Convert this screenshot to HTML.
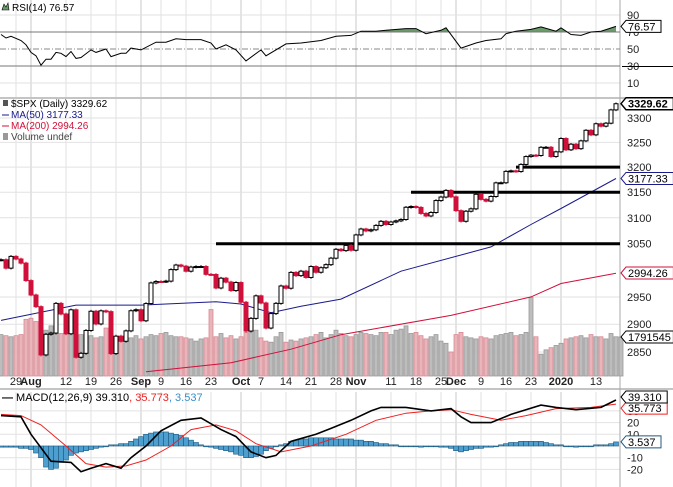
<!DOCTYPE html>
<html><head><meta charset="utf-8"><style>
html,body{margin:0;padding:0;background:#fff;}
svg{display:block;font-family:"Liberation Sans",sans-serif;}
</style></head><body>
<svg id="c" width="673" height="487" viewBox="0 0 673 487"></svg>
<script>
// ---- data ----
const closes=[3019.6,3003.7,3025.9,3020.97,3013.18,2980.38,
2953.56,2932.05,2844.74,2881.77,2883.98,2938.09,2918.65,2882.70,2926.32,2840.60,2847.60,2888.68,2923.65,2900.51,2924.43,2922.95,2847.11,2878.38,2869.16,2887.94,2924.58,2926.46,
2906.27,2937.78,2976.00,2978.71,2978.43,2979.39,3000.93,3009.57,3007.39,2997.96,3005.70,3006.73,3006.79,2992.07,2991.78,2966.60,2984.87,2977.62,2961.79,2976.74,
2940.25,2887.61,2910.63,2952.01,2938.79,2893.06,2919.40,2938.13,2970.27,2966.15,2995.68,2989.69,2997.95,2986.20,3006.72,2995.99,3004.52,3010.29,3022.55,3039.42,3036.89,3046.77,3037.56,
3066.91,3078.27,3074.62,3076.78,3085.18,3093.08,3087.01,3091.84,3094.04,3096.63,3120.46,3122.03,3120.18,3108.46,3103.54,3110.29,3133.64,3140.52,3153.63,3140.98,
3113.87,3093.20,3112.76,3117.43,3145.91,3135.96,3132.52,3141.63,3168.57,3168.80,3191.45,3192.52,3191.14,3205.37,3221.22,3224.01,3223.38,3239.91,3240.02,3221.29,3230.78,
3257.85,3234.85,3246.28,3237.18,3253.05,3274.70,3265.35,3288.13,3283.15,3289.29,3316.81,3329.62];
const firstOpen=3019.0;
const volumes=[1.9,1.85,1.8,1.85,1.9, 2.6,2.65,2.5,2.6, 2.1,2.3,2.15,1.95,2.4, 2.3,1.95,1.9,1.8,1.85,1.75,
1.8,2.2,1.7,1.75,1.6,1.7,1.75,1.85, 1.7,1.8,1.9,1.85,1.95,2.0, 1.85,1.8,1.8,1.75,1.7,1.6,1.7,1.75, 3.05,
1.8,1.95,1.75,1.85,1.7,1.8,2.0, 2.1,2.1,1.75,1.6,1.55,1.8,2.0,
1.55,1.65,1.6,1.7,1.75,1.8,1.9,2.0,1.75,1.9,2.1,1.95,1.85,1.8,
1.9,2.0,1.95,1.9,1.85,2.0,2.0,1.9,2.1,2.15,2.3,1.95,2.0,1.85,1.7,1.8,1.9,1.6,1.5, 1.1,
1.9,2.0,1.8,1.75,1.7,1.8,1.75,1.7,1.85,1.9,1.95,2.0,1.85,1.9,2.0, 3.6,
1.8,1.0,1.2,1.3,1.4,1.5, 1.7,1.75,1.8,1.85,1.75,1.9,1.8,1.8,1.7,1.95,1.8,1.79];
const ma50Idx=[0,15,28,43,48,54,60,68,80,98,106,112,123];
const ma50Val=[2907,2935,2935,2941,2937,2921,2933,2946,2998,3044,3087,3118,3177.33];
const ma200Idx=[29,46,58,68,90,106,112,123];
const ma200Val=[2815,2831,2855,2881,2916,2950,2975,2994.26];
const rsiIdx=[0,1,2,4,5,6,7,8,9,10,11,12,13,14,15,16,18,19,21,22,24,25,26,28,31,33,35,37,40,42,43,45,47,49,52,53,57,60,64,67,70,72,75,77,81,83,85,88,89,92,95,97,100,101,103,106,108,111,112,114,116,118,120,123];
const rsiVal=[67,63,65,60,55,46,42,31,38,38,46,45,41,47,39,40,49,46,50,41,45,45,51,49,58,58,62,61,61,57,50,55,49,36,49,42,56,57,60,65,66,71,71,72,74,74,68,72,75,51,57,60,62,68,71,73,76,71,75,67,66,70,71,76.57];
const macdIdx=[0,4,6,10,14,16,18,21,24,26,29,32,36,40,44,47,50,53,55,58,63,66,70,74,76,81,86,90,92,94,98,102,108,111,115,120,123];
const macdVal=[26,25,10,-13,-14,-22,-19,-15,-19,-10,0,13,22,24,14,8,-5,-10,-8,4,10,15,22,30,33,33,30,32,25,20,20,27,35,33,31,33,39.31];
const sigIdx=[0,4,8,13,17,21,25,29,34,38,43,47,51,56,62,69,75,81,86,90,94,100,105,111,118,123];
const sigVal=[27,26,18,0,-15,-18,-17,-12,0,14,18,13,2,-5,0,10,22,28,30,31,27,22,26,32,33,35.77];
const hist=[-1,-1,-1,-1,-2,-2,-3,-6,-10,-18,-20,-19,-14,-12,-8,-6,-5,-4,-3,-2,-1,0,1,1,2,2,4,6,8,10,11,12,12,12,11,10,9,7,5,3,1,0,-1,-2,-3,-4,-5,-7,-8,-10,-10,-9,-7,-4,-2,0,1,2,4,5,6,6,7,7,7,7,7,6,6,6,6,5,5,4,4,3,2,2,1,1,0,0,0,0,-1,0,0,0,-1,-1,-2,-4,-5,-4,-3,-2,-2,-1,-1,0,1,2,3,3,4,4,4,4,4,3,2,1,1,0,0,-1,0,0,0,1,1,1,2,3.5];
const supportLevels=[3050,3150,3200];
const supportStart=[43,82,103];
const priceTicks=[3300,3250,3200,3150,3100,3050,2950,2900,2850];
const rsiTicks=[90,70,50,30,10];
const macdTicks=[30,20,10,0,-10,-20];
const dateIdx=[3,6,13,18,23,28,32,37,42,48,52,57,62,67,71,78,83,88,91,96,101,106,112,119];
const dateLbl=["29","Aug","12","19","26","Sep","9","16","23","Oct","7","14","21","28","Nov","11","18","25","Dec","9","16","23","2020","13"];
const monthIdx=[6,28,48,71,91,112];

// ---- scales ----
const R=620;
const X=i=>1+5*i;
const PY=p=>118+1596*Math.log(3300/p);
const RY=v=>49-(v-50)*0.85;
const MY=v=>446-v*1.17;
const VY=v=>376-v*21.8;
const NS="http://www.w3.org/2000/svg";
const svg=document.getElementById('c');
function mk(tag,attrs,parent){const e=document.createElementNS(NS,tag);for(const k in attrs)e.setAttribute(k,attrs[k]);(parent||svg).appendChild(e);return e;}
function txt(s,x,y,attrs,parent){const t=mk('text',Object.assign({x:x,y:y,'font-size':11,fill:'#000'},attrs||{}),parent);t.textContent=s;return t;}
function poly(idx,val,f){return idx.map((i,k)=>X(i)+','+f(val[k]).toFixed(1)).join(' ');}

// ---- grids ----
const grid=mk('g',{});


dateIdx.forEach(i=>{
  const m=monthIdx.includes(i);
  [[0,97],[99,376],[392,487]].forEach(([a,b])=>mk('line',{x1:X(i),x2:X(i),y1:a,y2:b,stroke:m?'#c8c8c8':'#e2e2e2','stroke-width':1},grid));
});
[90,10].forEach(v=>mk('line',{x1:0,x2:R,y1:RY(v),y2:RY(v),stroke:'#e2e2e2'},grid));
priceTicks.forEach(p=>mk('line',{x1:0,x2:R,y1:PY(p),y2:PY(p),stroke:'#e2e2e2'},grid));
macdTicks.forEach(v=>mk('line',{x1:0,x2:R,y1:MY(v),y2:MY(v),stroke:'#e2e2e2'},grid));

// panel frames
mk('line',{x1:0,x2:673,y1:98,y2:98,stroke:'#888'});
mk('line',{x1:0,x2:673,y1:389,y2:389,stroke:'#888'});
mk('line',{x1:R,x2:R,y1:0,y2:487,stroke:'#aaa'});

// ---- RSI ----
const rsiG=mk('g',{});


const defs=mk('defs',{});
const cp=mk('clipPath',{id:'above70'},defs);
mk('rect',{x:0,y:0,width:R,height:RY(70)},cp);
const rp=poly(rsiIdx,rsiVal,RY);
const fillPts=X(rsiIdx[0])+','+RY(70)+' '+rp+' '+X(rsiIdx[rsiIdx.length-1])+','+RY(70);
const rf=mk('polygon',{points:fillPts,fill:'#6b9a6b','clip-path':'url(#above70)'},rsiG);


mk('line',{x1:0,x2:R,y1:RY(70),y2:RY(70),stroke:'#777'},rsiG);
mk('line',{x1:0,x2:R,y1:RY(30),y2:RY(30),stroke:'#777'},rsiG);
mk('line',{x1:0,x2:R,y1:RY(50),y2:RY(50),stroke:'#888','stroke-dasharray':'6,2,1,2'},rsiG);
const rl=mk('polyline',{points:rp,fill:'none',stroke:'#000','stroke-width':1},rsiG);


rsiTicks.forEach(v=>txt(String(v),627,RY(v)+4,{'font-size':11,fill:'#222'}));
const rsiT=txt('RSI(14) 76.57',12,11,{'font-size':10});


mk('path',{d:'M2 10 L4 4 L6 7 L8 3 L9 10 Z',fill:'#6b9a6b',stroke:'#000','stroke-width':0.6});
mk('line',{x1:622,x2:673,y1:66.5,y2:66.5,stroke:'#000'});

// ---- value tag helper ----
function tag(s,y,col,bold,name){
  const g=mk('g',{});
  
  
  const w=s.length*6.2+4;
  mk('path',{d:`M621 ${y} L626 ${y-6} L${626+w} ${y-6} L${626+w} ${y+6} L626 ${y+6} Z`,fill:'#fff',stroke:col,'stroke-width':bold?1.4:1},g);
  txt(s,628,y+4,{'font-size':11,'font-weight':bold?'bold':'normal',fill:'#000'},g);
}
tag('76.57',RY(76.57),'#000',false,'rsi-value-tag');

// ---- volume ----
const volG=mk('g',{});


volumes.forEach((v,i)=>{
  const prev=i===0?firstOpen:closes[i-1];
  const down=closes[i]<prev;
  const b=mk('rect',{x:X(i)-2,y:VY(v),width:4,height:376-VY(v),fill:down?'#e9b5bb':'#bdbdbd',stroke:down?'#d98a94':'#9a9a9a','stroke-width':0.8},volG);
  
  
});

// ---- MAs ----
const m200=mk('polyline',{points:poly(ma200Idx,ma200Val,PY),fill:'none',stroke:'#d0103a','stroke-width':1});


const m50=mk('polyline',{points:poly(ma50Idx,ma50Val,PY),fill:'none',stroke:'#1a1a8c','stroke-width':1});



// ---- support lines ----
supportLevels.forEach((p,k)=>{
  const l=mk('line',{x1:X(supportStart[k]),x2:R,y1:PY(p),y2:PY(p),stroke:'#000','stroke-width':3});
  
  
});

// ---- candles ----
const cG=mk('g',{});


closes.forEach((c,i)=>{
  const o=i===0?firstOpen:closes[i-1];
  const up=c>=o;
  const col=up?'#000':'#d0103a';
  const hi=Math.max(o,c)+2.5, lo=Math.min(o,c)-2.5;
  const g=mk('g',{},cG);
  
  
  mk('line',{x1:X(i),x2:X(i),y1:PY(hi),y2:PY(lo),stroke:col,'stroke-width':1},g);
  const y1=PY(Math.max(o,c)),y2=PY(Math.min(o,c));
  mk('rect',{x:X(i)-2,y:y1,width:4,height:Math.max(1,y2-y1),fill:up?'#fff':'#d0103a',stroke:col,'stroke-width':1},g);
});

// price axis
priceTicks.forEach(p=>txt(String(p),627,PY(p)+4,{'font-size':11,fill:'#222'}));
tag('3329.62',PY(3329.62),'#000',true,'price-value-tag');
tag('3177.33',PY(3177.33),'#1a1a8c',false,'ma50-value-tag');
tag('2994.26',273,'#d0103a',false,'ma200-value-tag');
tag('1791545',VY(1.79),'#000',false,'volume-value-tag');

// main legend
const lg=mk('g',{});


txt('$SPX (Daily) 3329.62',11,107,{'font-size':10},lg);
txt('MA(50) 3177.33',11,118,{'font-size':10,fill:'#1a1a8c'},lg);
txt('MA(200) 2994.26',11,129,{'font-size':10,fill:'#d0103a'},lg);
txt('Volume undef',11,140,{'font-size':10,fill:'#444'},lg);
mk('rect',{x:3,y:100,width:5,height:6,fill:'#555'},lg);
mk('line',{x1:2,x2:9,y1:115,y2:115,stroke:'#1a1a8c'},lg);
mk('line',{x1:2,x2:9,y1:126,y2:126,stroke:'#d0103a'},lg);
mk('rect',{x:3,y:133,width:5,height:7,fill:'#999'},lg);

// date axis
dateIdx.forEach((i,k)=>{
  const m=monthIdx.includes(i);
  const t=txt(dateLbl[k],X(i),385,{'font-size':11,'font-weight':m?'bold':'normal','text-anchor':'middle',fill:'#222'});
  
  
});

// ---- MACD ----
const hG=mk('g',{});


hist.forEach((v,i)=>{
  const y0=MY(0),y1=MY(v);
  const b=mk('rect',{x:X(i)-2.5,y:Math.min(y0,y1),width:5,height:Math.max(0.8,Math.abs(y1-y0)),fill:'#4c9fcf',stroke:'#1f5a80','stroke-width':0.6},hG);
  
  
});
const sl=mk('polyline',{points:poly(sigIdx,sigVal,MY),fill:'none',stroke:'#f02020','stroke-width':1});


const ml=mk('polyline',{points:poly(macdIdx,macdVal,MY),fill:'none',stroke:'#000','stroke-width':1.6});


macdTicks.filter(v=>v!==0).forEach(v=>txt(String(v),627,MY(v)+4,{'font-size':11,fill:'#222'}));
tag('35.773',MY(35.773)+4,'#f02020',false,'signal-value-tag');
tag('39.310',MY(39.31)-3,'#000',false,'macd-value-tag');
tag('3.537',MY(3.537),'#1f5a80',false,'histogram-value-tag');
const mt=mk('text',{x:2,y:401,'font-size':11});


mt.innerHTML='<tspan font-weight="bold">—</tspan> MACD(12,26,9) 39.310<tspan fill="#f02020">, 35.773</tspan><tspan fill="#3a8fc8">, 3.537</tspan>';
</script>
</body></html>
